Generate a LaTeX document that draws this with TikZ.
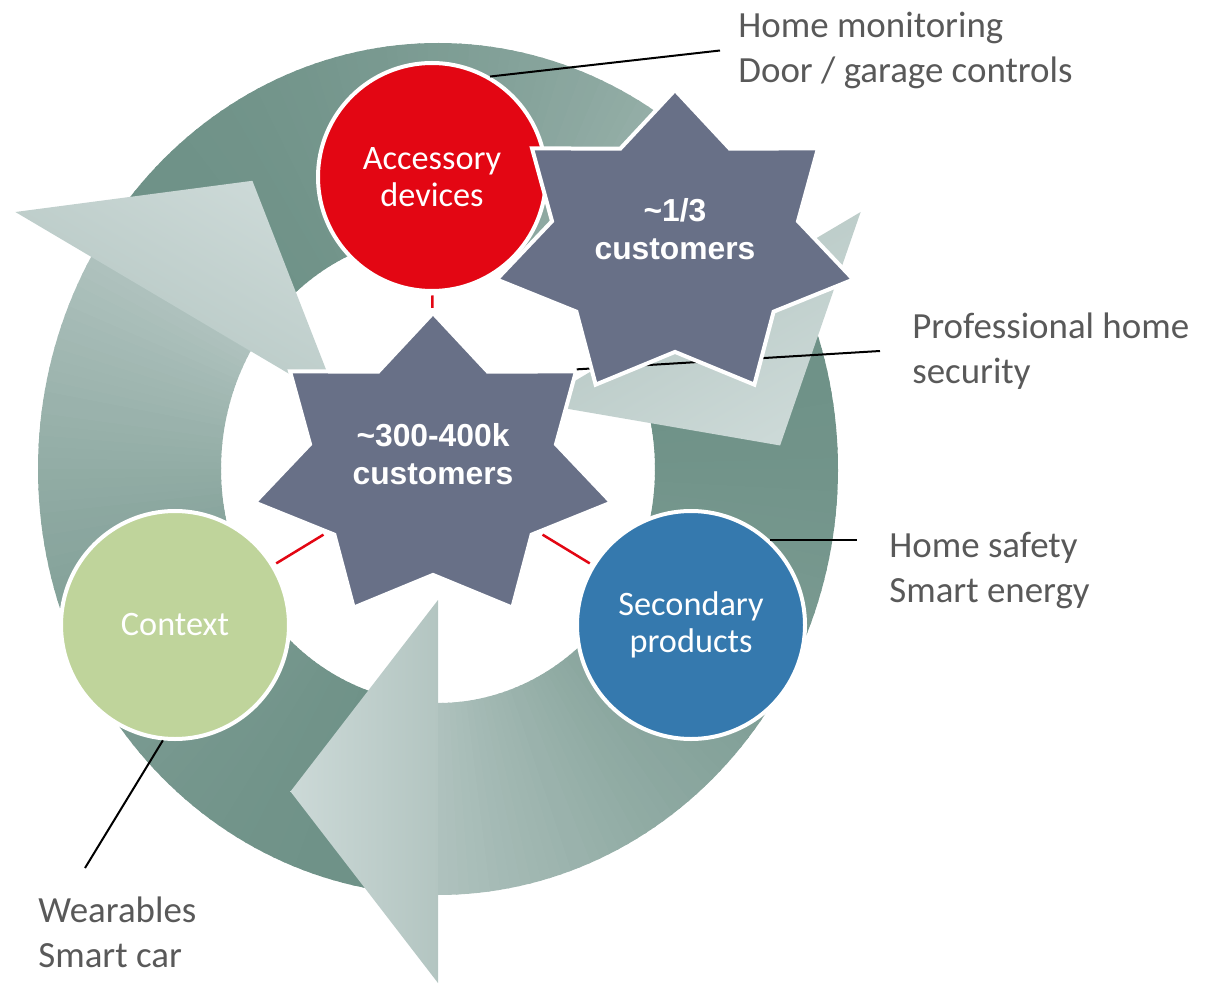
\documentclass[tikz,border=0pt]{standalone}
\usepackage{fontspec}
\setmainfont{Carlito}
\newfontfamily\starfont{Liberation Sans}
\usepackage{tikz}
\usetikzlibrary{calc,shapes.geometric,positioning}
\definecolor{ringdark}{HTML}{6E9187}
\definecolor{ringmid}{HTML}{B3C5C1}
\definecolor{ringlight}{HTML}{CCD9D7}
\definecolor{accred}{HTML}{E30613}
\definecolor{ctxgreen}{HTML}{BFD49B}
\definecolor{secblue}{HTML}{3579AE}
\definecolor{stargrey}{HTML}{687087}
\definecolor{labelgrey}{HTML}{595959}

\begin{document}
\begin{tikzpicture}[x=0.2mm,y=0.2mm]

\tikzset{circnode/.style={shape=circle,draw=white,line width=0.8mm,minimum size=4.56cm,inner sep=0pt,align=center,text=white,font=\fontsize{19.5}{21}\selectfont},
rednode/.style={circnode,fill=accred},
greennode/.style={circnode,fill=ctxgreen},
bluenode/.style={circnode,fill=secblue},
starnode/.style={shape=star,star points=7,star point ratio=1.45,minimum size=6.2cm,inner sep=0pt,fill=stargrey,draw=white,line width=0.8mm,xscale=1.18},
startext/.style={align=center,text=white,font=\starfont\bfseries\fontsize{18.1}{21.6}\selectfont},
labeltext/.style={anchor=west,align=left,inner sep=0pt,text=labelgrey,font=\fontsize{21}{25.6}\selectfont},
redline/.style={accred,line width=0.5mm,shorten <=0.5mm,shorten >=0.5mm},
leader/.style={black,line width=0.4mm}}

\useasboundingbox (0,0) rectangle (1220,985);

% Ring of three arrows
\begin{scope}[shift={(438,516)}]
\foreach \tail in {270,150,30}
  \foreach \k in {0,...,79} {
    \pgfmathsetmacro\ta{\tail-3-1.5*\k}
    \pgfmathsetmacro\tb{\tail-3-1.5*\k-1.9}
    \pgfmathtruncatemacro\mix{100-\k*\k/64}
    \fill[ringdark!\mix!ringmid] (\ta:400 and 426) arc[start angle=\ta,end angle=\tb,x radius=400,y radius=426]
      -- (\tb:217 and 234) arc[start angle=\tb,end angle=\ta,x radius=217,y radius=234] -- cycle;
  }
% arrow heads
\foreach \base/\turn/\len in {270/90/2.95cm,150/-30/2.95cm,30/-150/3.2cm} {
  \coordinate (ho) at (\base:488 and 514);
  \coordinate (hi) at (\base:114 and 131);
  \coordinate (hm) at ($(ho)!0.5!(hi)$);
  \coordinate (ht) at ($(hm)!\len!-90:(ho)$);
  \shade[top color=ringlight,bottom color=ringmid,shading angle=\turn] (ho) -- (ht) -- (hi) -- cycle;
}
\end{scope}

% Labels
\node[labeltext] (homemon) at (738,934.5) {Home monitoring\\Door / garage controls};
\node[labeltext] (prof) at (912,634) {Professional home\\security};
\node[labeltext] (safety) at (889,414.5) {Home safety\\Smart energy};
\node[labeltext] (wear) at (38,52.5) {Wearables\\Smart car};

% Circles
\node[rednode] (acc) at (432,808) {Accessory\\devices};
\node[greennode] (ctx) at (175,360) {Context};
\node[bluenode] (sec) at (691,360) {Secondary\\products};

% Customer stars
\node[starnode] (star1) at (433,517) {};
\node[startext] (star1txt) at (433,531) {\textasciitilde 300-400k\\customers};

\draw[redline] (acc) -- (star1);
\draw[redline] (ctx) -- (star1);
\draw[redline] (sec) -- (star1);

\draw[leader] (star1.39) -- ([xshift=-6.4mm]prof.west);

\node[starnode] (star2) at (675,740) {};
\node[startext] (star2txt) at (675,756) {\textasciitilde 1/3\\customers};

% Leader lines
\coordinate (safetyend) at (857,446);
\coordinate (wearend) at (85,117);
\draw[leader] (acc.60) -- ([xshift=-3.6mm]homemon.west);
\draw[leader] (sec.47) -- (sec.47 -| safetyend);
\draw[leader] (ctx.264) -- (wearend);

\end{tikzpicture}
\end{document}
